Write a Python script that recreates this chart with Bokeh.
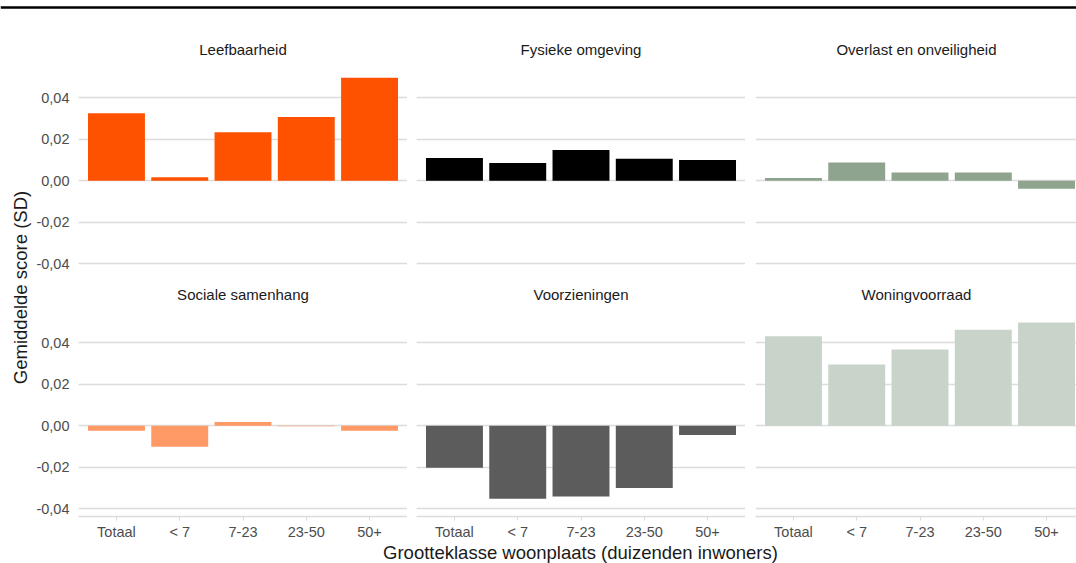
from math import pi

from bokeh.embed import file_html
from bokeh.layouts import column, row
from bokeh.models import CustomJSTickFormatter, FixedTicker, Label, Range1d, Span
from bokeh.plotting import figure
from bokeh.resources import INLINE

# ---- data -------------------------------------------------------------
categories = ["Totaal", "< 7", "7-23", "23-50", "50+"]

leefbaarheid = [0.0325, 0.0017, 0.0233, 0.0307, 0.0495]
fysieke_omgeving = [0.0109, 0.0085, 0.0148, 0.0106, 0.0100]
overlast_onveiligheid = [0.0013, 0.0087, 0.0040, 0.0040, -0.0039]
sociale_samenhang = [-0.0024, -0.0101, 0.0018, -0.0003, -0.0024]
voorzieningen = [-0.0202, -0.0352, -0.0341, -0.0300, -0.0045]
woningvoorraad = [0.0431, 0.0295, 0.0367, 0.0462, 0.0497]

panel_titles = [
    "Leefbaarheid", "Fysieke omgeving", "Overlast en onveiligheid",
    "Sociale samenhang", "Voorzieningen", "Woningvoorraad",
]
panel_values = [
    leefbaarheid, fysieke_omgeving, overlast_onveiligheid,
    sociale_samenhang, voorzieningen, woningvoorraad,
]
panel_colors = ["#ff5200", "#000000", "#8fa48e", "#ff9966", "#5c5c5c", "#c8d3c9"]

y_ticks = [-0.04, -0.02, 0.0, 0.02, 0.04]
y_title = "Gemiddelde score (SD)"
x_title = "Grootteklasse woonplaats (duizenden inwoners)"

# ---- styling / layout -------------------------------------------------
FONT = "Liberation Sans"
GRID = "#dcdcdc"
TICK_TXT = "#4d4d4d"

Y_LO, Y_HI = -0.0437, 0.054
X_LO, X_HI = 0.4, 5.6
FRAME_W = 329
FRAME_H = 203
TOTAL_W = 1076
YT_W = 33

col_left_border = [44, 9, 10]
col_frame_w = [FRAME_W, FRAME_W,
               TOTAL_W - YT_W - col_left_border[0] - FRAME_W
               - col_left_border[1] - FRAME_W - col_left_border[2]]
row_top_border = [58, 42]
row_bottom_border = [0, 24]

xs = list(range(1, len(categories) + 1))


def make_panel(idx):
    r, c = divmod(idx, 3)
    fw = col_frame_w[c]
    x_hi = X_LO + (X_HI - X_LO) * fw / FRAME_W
    p = figure(
        output_backend="svg", toolbar_location=None,
        frame_width=fw, frame_height=FRAME_H,
        x_range=Range1d(X_LO, x_hi), y_range=Range1d(Y_LO, Y_HI),
        min_border_left=col_left_border[c], min_border_right=0,
        min_border_top=row_top_border[r], min_border_bottom=row_bottom_border[r],
        background_fill_color="white", border_fill_color="white",
        outline_line_color=None,
    )
    p.title.text = panel_titles[idx]
    p.title.align = "center"
    p.title.text_font = FONT
    p.title.text_font_size = "15px"
    p.title.text_font_style = "normal"
    p.title.text_color = "#1a1a1a"
    p.title.standoff = 22

    p.xgrid.visible = False
    p.ygrid.ticker = FixedTicker(ticks=y_ticks)
    p.ygrid.grid_line_color = GRID
    p.ygrid.grid_line_width = 1.6

    p.vbar(x=xs, top=panel_values[idx], bottom=0, width=0.9,
           fill_color=panel_colors[idx], line_color=None)

    # y axis only on the first column
    yax = p.yaxis[0]
    if c == 0:
        yax.ticker = FixedTicker(ticks=y_ticks)
        yax.formatter = CustomJSTickFormatter(code="return tick.toFixed(2).replace('.', ',');")
        yax.axis_line_color = None
        yax.major_tick_line_color = None
        yax.minor_tick_line_color = None
        yax.major_tick_out = 0
        yax.major_tick_in = 0
        yax.major_label_standoff = 9
        yax.major_label_text_font = FONT
        yax.major_label_text_font_size = "14.5px"
        yax.major_label_text_color = TICK_TXT
    else:
        yax.visible = False

    # x axis only on the bottom row
    xax = p.xaxis[0]
    if r == 1:
        xax.ticker = FixedTicker(ticks=xs)
        xax.major_label_overrides = {x: cat for x, cat in zip(xs, categories)}
        xax.axis_line_color = GRID
        xax.axis_line_width = 1.6
        xax.major_tick_line_color = GRID
        xax.major_tick_line_width = 1.2
        xax.major_tick_in = 0
        xax.major_tick_out = 4
        xax.minor_tick_line_color = None
        xax.major_label_standoff = 3
        xax.major_label_text_font = FONT
        xax.major_label_text_font_size = "14.5px"
        xax.major_label_text_color = TICK_TXT
    else:
        xax.visible = False
    return p


panels = [make_panel(i) for i in range(6)]
row1_h = row_top_border[0] + FRAME_H + row_bottom_border[0]
row2_h = row_top_border[1] + FRAME_H + row_bottom_border[1]

HEADER_H = 10
XT_H = 563 - HEADER_H - row1_h - row2_h


def blank(w, h):
    f = figure(
        output_backend="svg", toolbar_location=None,
        frame_width=w, frame_height=h,
        x_range=Range1d(0, w), y_range=Range1d(0, h),
        min_border=0, min_border_left=0, min_border_right=0,
        min_border_top=0, min_border_bottom=0,
        outline_line_color=None, background_fill_color="white",
        border_fill_color="white",
    )
    f.axis.visible = False
    f.grid.visible = False
    return f


# black rule across the top
header = blank(TOTAL_W, HEADER_H)
header.add_layout(Span(location=HEADER_H - 5, dimension="width",
                       line_color="black", line_width=2.5))

# shared y-axis title
ytitle = blank(YT_W, row1_h + row2_h)
ytitle.add_layout(Label(
    x=20, y=row1_h + row2_h - (287 - HEADER_H), text=y_title, angle=pi / 2,
    text_align="center", text_baseline="middle",
    text_font=FONT, text_font_size="18.5px", text_color="#1a1a1a",
))

# shared x-axis title, centred on the panel block
panels_left = YT_W + col_left_border[0]
panels_right = panels_left + 3 * FRAME_W + col_left_border[1] + col_left_border[2]
xtitle = blank(TOTAL_W, XT_H)
xtitle.add_layout(Label(
    x=(panels_left + panels_right) / 2, y=XT_H - 10, text=x_title,
    text_align="center", text_baseline="middle",
    text_font=FONT, text_font_size="18.5px", text_color="#1a1a1a",
))

grid_block = column(row(*panels[:3]), row(*panels[3:]))
layout = column(header, row(ytitle, grid_block), xtitle)

open("out.html", "w").write(file_html(layout, INLINE))
